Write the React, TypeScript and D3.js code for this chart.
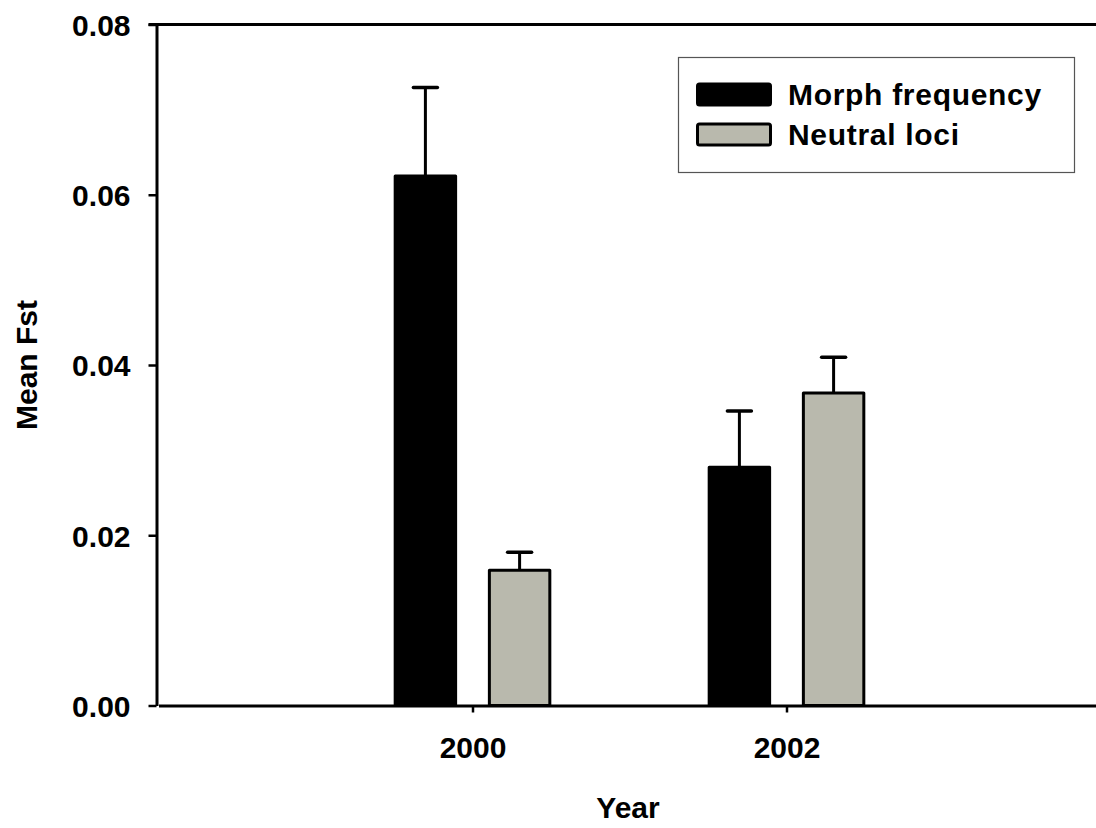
import React, { useEffect, useRef } from 'react';
import * as d3 from 'd3';

// values
const years = [2000, 2002];
const morphFreq = [0.0622, 0.028];
const morphErr = [0.0104, 0.0066];
const neutralLoci = [0.0159, 0.0367];
const neutralErr = [0.0021, 0.0042];
const yTicks = [0, 0.02, 0.04, 0.06, 0.08];
const seriesNames = ['Morph frequency', 'Neutral loci'];
const seriesColors = ['#000000', '#b9b9ad'];

const FONT = 'Arial, "Liberation Sans", Helvetica, sans-serif';

export default function App() {
  const ref = useRef<SVGSVGElement>(null);

  useEffect(() => {
    const svg = d3.select(ref.current);
    svg.selectAll('*').remove();

    const width = 1096;
    const height = 828;
    const left = 156.5;
    const top = 24.5;
    const bottom = 705.5;

    const x = d3.scaleLinear().domain([1998, 2004]).range([158.5, 1100.5]);
    const y = d3.scaleLinear().domain([0, 0.08]).range([bottom, top]);

    const offset = 0.3;
    const barW = x(1998.385) - x(1998);

    const series = [
      { name: seriesNames[0], values: morphFreq, errs: morphErr, color: seriesColors[0], dx: -offset },
      { name: seriesNames[1], values: neutralLoci, errs: neutralErr, color: seriesColors[1], dx: offset },
    ];

    const g = svg.append('g');

    // error bars (drawn first so bars cover the stem base)
    series.forEach(s => {
      years.forEach((yr, i) => {
        const cx = x(yr + s.dx);
        g.append('line')
          .attr('x1', cx).attr('x2', cx)
          .attr('y1', y(s.values[i])).attr('y2', y(s.values[i] + s.errs[i]))
          .attr('stroke', '#000').attr('stroke-width', 3);
        g.append('line')
          .attr('x1', cx - 12).attr('x2', cx + 12)
          .attr('y1', y(s.values[i] + s.errs[i])).attr('y2', y(s.values[i] + s.errs[i]))
          .attr('stroke', '#000').attr('stroke-width', 3.5)
          .attr('stroke-linecap', 'round');
      });
    });

    // bars
    series.forEach(s => {
      g.selectAll(null)
        .data(years)
        .enter()
        .append('rect')
        .attr('x', d => x(d + s.dx) - barW / 2)
        .attr('width', barW)
        .attr('y', (d, i) => y(s.values[i]))
        .attr('height', (d, i) => y(0) - y(s.values[i]))
        .attr('fill', s.color)
        .attr('stroke', '#000')
        .attr('stroke-width', 3)
        .attr('stroke-linejoin', 'round');
    });

    // frame: top line
    g.append('line')
      .attr('x1', left - 8).attr('x2', width)
      .attr('y1', top).attr('y2', top)
      .attr('stroke', '#000').attr('stroke-width', 3);

    // y axis
    const yAxis = g.append('g')
      .attr('transform', `translate(${left},0)`)
      .call(
        d3.axisLeft(y)
          .tickValues(yTicks)
          .tickFormat(d3.format('.2f'))
          .tickSize(8)
          .tickSizeOuter(0)
          .tickPadding(18)
      );
    yAxis.select('.domain').attr('stroke-width', 3);
    yAxis.selectAll('.tick line').attr('stroke-width', 2.5);
    yAxis.selectAll('.tick text')
      .attr('font-family', FONT)
      .attr('font-size', 30)
      .attr('font-weight', 700)
      .attr('fill', '#000')
      .attr('dy', '0.36em');

    // x axis
    const xAxis = g.append('g')
      .attr('transform', `translate(0,${bottom})`)
      .call(
        d3.axisBottom(x)
          .tickValues(years)
          .tickFormat(d3.format('d'))
          .tickSize(7)
          .tickSizeOuter(0)
          .tickPadding(24)
      );
    xAxis.select('.domain').attr('stroke-width', 3);
    xAxis.selectAll('.tick line').attr('stroke-width', 2.5);
    xAxis.selectAll('.tick text')
      .attr('font-family', FONT)
      .attr('font-size', 30)
      .attr('font-weight', 700)
      .attr('fill', '#000');

    // axis titles
    g.append('text')
      .attr('transform', `translate(37,365) rotate(-90)`)
      .attr('text-anchor', 'middle')
      .attr('font-family', FONT)
      .attr('font-size', 30)
      .attr('font-weight', 700)
      .text('Mean Fst');

    g.append('text')
      .attr('x', 628)
      .attr('y', 818)
      .attr('text-anchor', 'middle')
      .attr('font-family', FONT)
      .attr('font-size', 30)
      .attr('font-weight', 700)
      .text('Year');

    // legend
    const lg = g.append('g');
    lg.append('rect')
      .attr('x', 678.5).attr('y', 57.5)
      .attr('width', 396).attr('height', 115)
      .attr('fill', '#fff')
      .attr('stroke', '#555').attr('stroke-width', 1.2);

    series.forEach((s, i) => {
      const rowY = 94.5 + i * 40;
      lg.append('rect')
        .attr('x', 697.5).attr('y', rowY - 10.5)
        .attr('width', 73).attr('height', 21)
        .attr('rx', 2)
        .attr('fill', s.color)
        .attr('stroke', '#000').attr('stroke-width', 3);
      lg.append('text')
        .attr('x', 788)
        .attr('y', rowY + 10.5)
        .attr('font-family', FONT)
        .attr('font-size', 30)
        .attr('font-weight', 700)
        .attr('letter-spacing', 0.7)
        .text(s.name);
    });

    svg.attr('width', width).attr('height', height);
  }, []);

  return (
    <svg
      ref={ref}
      width={1096}
      height={828}
      style={{ position: 'absolute', left: 0, top: 0, background: '#fff' }}
    />
  );
}
